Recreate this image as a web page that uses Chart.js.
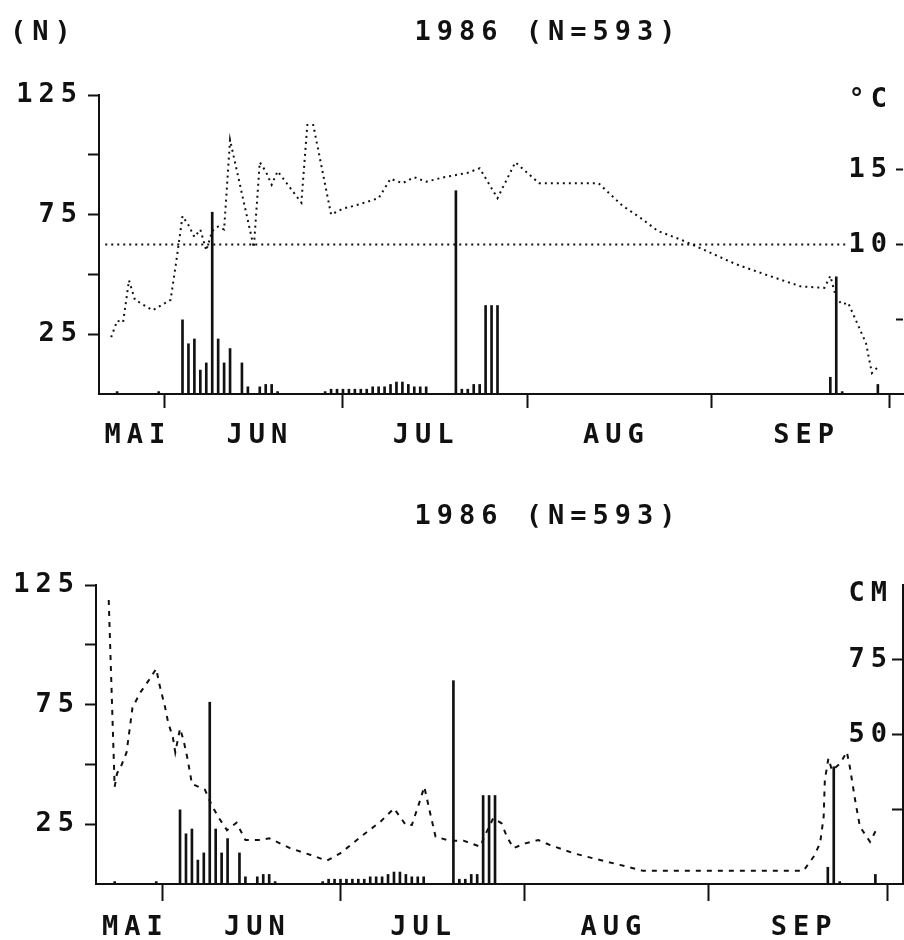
<!DOCTYPE html>
<html lang="de">
<head>
<meta charset="UTF-8" />
<title>1986 (N=593)</title>
<script src="https://cdn.jsdelivr.net/npm/chart.js@4.4.1/dist/chart.umd.min.js"></script>
<style>
  body { margin: 0; background: #fff; }
  canvas { display: block; }
</style>
</head>
<body>
<canvas id="chartTemp" width="904" height="470"></canvas>
<canvas id="chartLevel" width="904" height="470"></canvas>
<script>
// days are counted from 1 May (= day 1)
const catchDays = [24, 31, 35, 36, 37, 38, 39, 40, 41, 42, 43, 45, 46, 48, 49, 50, 51,
  59, 60, 61, 62, 63, 64, 65, 66, 67, 68, 69, 70, 71, 72, 73, 74, 75, 76,
  81, 82, 83, 84, 85, 86, 87, 88, 144, 145, 146, 152];
const catchCounts = [1, 1, 31, 21, 23, 10, 13, 76, 23, 13, 19, 13, 3, 3, 4, 4, 1,
  1, 2, 2, 2, 2, 2, 2, 2, 3, 3, 3, 4, 5, 5, 4, 3, 3, 3,
  85, 2, 2, 4, 4, 37, 37, 37, 7, 49, 1, 4];

// water temperature (°C)
const tempDays = [23, 24, 25, 26, 27, 30, 33, 34, 35, 36, 37, 38, 39, 40, 41, 42, 43, 47, 48, 49, 50, 51,
  55, 56, 57, 60, 62, 64, 68, 70, 72, 74, 76, 79, 83, 85, 88, 91, 95, 105, 109, 112, 115, 119,
  123, 128, 133, 139, 143, 144, 145, 146, 147, 150, 151, 152];
const tempValues = [3.8, 4.9, 4.8, 7.6, 6.3, 5.6, 6.3, 9.0, 11.9, 11.3, 10.5, 11.0, 9.6, 10.9, 11.2, 11.0, 17.0, 9.8, 15.5, 14.9, 14.0, 14.9,
  12.8, 18.0, 18.0, 12.0, 12.4, 12.6, 13.1, 14.4, 14.1, 14.5, 14.2, 14.5, 14.8, 15.1, 13.1, 15.5, 14.1, 14.1, 12.6, 11.8, 10.9, 10.3,
  9.6, 8.7, 8.0, 7.2, 7.1, 7.9, 6.4, 6.0, 6.1, 3.4, 1.4, 1.8];
const thresholdDays = [22, 146.5];
const thresholdTemp = 10;

// water level (cm)
const levelDays = [23, 24, 24.4, 25, 26, 27, 28.3, 29.7, 31, 31.5, 32.5, 33, 33.8, 34.2, 35, 35.6, 36.3, 37,
  39.2, 40.3, 41.4, 42.9, 44.5, 46, 48.5, 50, 53.5, 57, 59.7, 62, 65.8, 68.7, 71, 73, 74, 75.4, 76.1, 77.1, 78,
  80.4, 82.7, 85.5, 86.6, 87.7, 89.1, 90, 91.1, 93.1, 95.3, 97.3, 101.2, 105.1, 109, 112.9, 139.9, 141.6, 142.7,
  143.3, 143.5, 144.1, 144.7, 146.1, 147.2, 147.7, 148.6, 149.4, 151.1, 152.2];
const levelValues = [95, 32.5, 37, 39, 44, 59, 64, 68, 72, 67, 59, 54, 49, 44, 52, 48, 41.5, 33.5,
  31.5, 26.5, 22.5, 18, 20.5, 14.7, 14.7, 15.3, 12, 9.7, 7.8, 10.3, 16.4, 20.8, 25.3, 19.7, 19.7, 28, 32.5, 23.6, 15.8,
  14.5, 14.5, 12.5, 17.5, 22, 20.3, 15.8, 12, 13.6, 14.7, 13, 10.3, 8.3, 6.4, 4.4, 4.4, 9.1, 13.6,
  22.5, 34.8, 42, 38, 40.4, 44.2, 39.2, 28, 19.2, 14.1, 18.3];

// axes
const monthStartDays = [32, 62, 93, 124, 154];
const monthLabelDays = [27.5, 48, 76, 108, 140];
const monthNames = ['MAI', 'JUN', 'JUL', 'AUG', 'SEP'];
const countTicks = [25, 50, 75, 100, 125];
const countTickLabels = ['25', '', '75', '', '125'];
const tempTicks = [5, 10, 15, 19.7];
const tempTickLabels = ['', '10', '15', '°C'];
const levelTicks = [25, 50, 75, 97];
const levelTickLabels = ['', '50', '75', 'CM'];

const INK = '#111';
const FONT = { family: '"DejaVu Sans Mono", monospace', size: 27, weight: 'bold' };
const SPACING = '6px';

const pts = (xs, ys) => xs.map((x, i) => ({ x: x, y: ys[i] }));

function textPlugin(texts) {
  return {
    id: 'texts',
    beforeDraw(chart) { chart.ctx.letterSpacing = SPACING; },
    afterDraw(chart) {
      const ctx = chart.ctx;
      ctx.save();
      ctx.letterSpacing = SPACING;
      ctx.font = 'bold 27px "DejaVu Sans Mono", monospace';
      ctx.fillStyle = INK;
      ctx.textBaseline = 'middle';
      texts.forEach(t => {
        ctx.textAlign = t.align;
        ctx.fillText(t.text, t.x, t.y);
      });
      ctx.restore();
    }
  };
}

function makeChart(id, o) {
  const ctx = document.getElementById(id).getContext('2d');
  return new Chart(ctx, {
    type: 'bar',
    data: {
      datasets: o.lines.concat([{
        type: 'bar',
        data: pts(catchDays, catchCounts),
        yAxisID: 'yN',
        backgroundColor: INK,
        barThickness: 2,
        order: 2
      }])
    },
    options: {
      responsive: false,
      animation: false,
      events: [],
      layout: { padding: { top: o.top, left: 0, right: 0, bottom: 0 } },
      plugins: { legend: { display: false }, tooltip: { enabled: false } },
      scales: {
        x: {
          type: 'linear',
          offset: false,
          min: o.xMin,
          max: o.xMax,
          afterFit: s => { s.height = o.axisHeight; },
          afterBuildTicks: s => {
            s.ticks = monthStartDays.concat(monthLabelDays).sort((a, b) => a - b).map(v => ({ value: v }));
          },
          border: { color: INK, width: 2 },
          grid: {
            offset: false,
            drawOnChartArea: false,
            tickLength: o.xTick,
            tickWidth: 2,
            tickColor: c => (c.tick && monthStartDays.includes(c.tick.value)) ? INK : 'rgba(0,0,0,0)'
          },
          ticks: {
            autoSkip: false,
            maxRotation: 0,
            padding: o.xPad,
            color: INK,
            font: FONT,
            callback: v => { const j = monthLabelDays.indexOf(v); return j < 0 ? '' : monthNames[j]; }
          }
        },
        yN: {
          position: 'left',
          min: 0,
          max: 125,
          afterFit: s => { s.width = o.leftWidth; },
          afterBuildTicks: s => { s.ticks = countTicks.map(v => ({ value: v })); },
          border: { color: INK, width: 2 },
          grid: { drawOnChartArea: false, tickLength: 11, tickWidth: 2, tickColor: INK },
          ticks: {
            padding: 5,
            color: INK,
            font: FONT,
            callback: (v, i) => countTickLabels[i]
          }
        },
        yR: {
          position: 'right',
          min: 0,
          max: o.rightMax,
          afterFit: s => { s.width = 1; },
          afterBuildTicks: s => { s.ticks = o.rightTicks.map(v => ({ value: v })); },
          border: { display: o.rightBorder, color: INK, width: 2 },
          grid: {
            drawOnChartArea: false,
            tickLength: -o.rightTick,
            tickWidth: 2,
            tickColor: c => (c.index === o.rightTicks.length - 1) ? 'rgba(0,0,0,0)' : INK
          },
          ticks: {
            mirror: true,
            padding: -10,
            color: INK,
            font: FONT,
            callback: (v, i) => o.rightLabels[i]
          }
        }
      }
    },
    plugins: [textPlugin(o.texts)]
  });
}

makeChart('chartTemp', {
  top: 95, axisHeight: 76, leftWidth: 99, xMin: 20.95, xMax: 156.23, xTick: 14, xPad: 12,
  rightMax: 20, rightTicks: tempTicks, rightLabels: tempTickLabels, rightBorder: false, rightTick: 7,
  texts: [
    { text: '(N)', x: 10, y: 33, align: 'left' },
    { text: '1986 (N=593)', x: 548, y: 33, align: 'center' }
  ],
  lines: [
    {
      type: 'line',
      data: pts(tempDays, tempValues),
      yAxisID: 'yR',
      borderColor: INK,
      borderWidth: 2,
      borderDash: [2, 4],
      pointRadius: 0,
      tension: 0,
      order: 1
    },
    {
      type: 'line',
      data: pts(thresholdDays, thresholdDays.map(() => thresholdTemp)),
      yAxisID: 'yR',
      borderColor: INK,
      borderWidth: 2,
      borderDash: [2, 4],
      pointRadius: 0,
      order: 1
    }
  ]
});

makeChart('chartLevel', {
  top: 115, axisHeight: 56, leftWidth: 96, xMin: 20.86, xMax: 156.65, xTick: 17, xPad: 11,
  rightMax: 100, rightTicks: levelTicks, rightLabels: levelTickLabels, rightBorder: true, rightTick: 11,
  texts: [
    { text: '1986 (N=593)', x: 548, y: 47, align: 'center' }
  ],
  lines: [
    {
      type: 'line',
      data: pts(levelDays, levelValues),
      yAxisID: 'yR',
      borderColor: INK,
      borderWidth: 2,
      borderDash: [5, 6],
      pointRadius: 0,
      tension: 0,
      order: 1
    }
  ]
});
</script>
</body>
</html>
